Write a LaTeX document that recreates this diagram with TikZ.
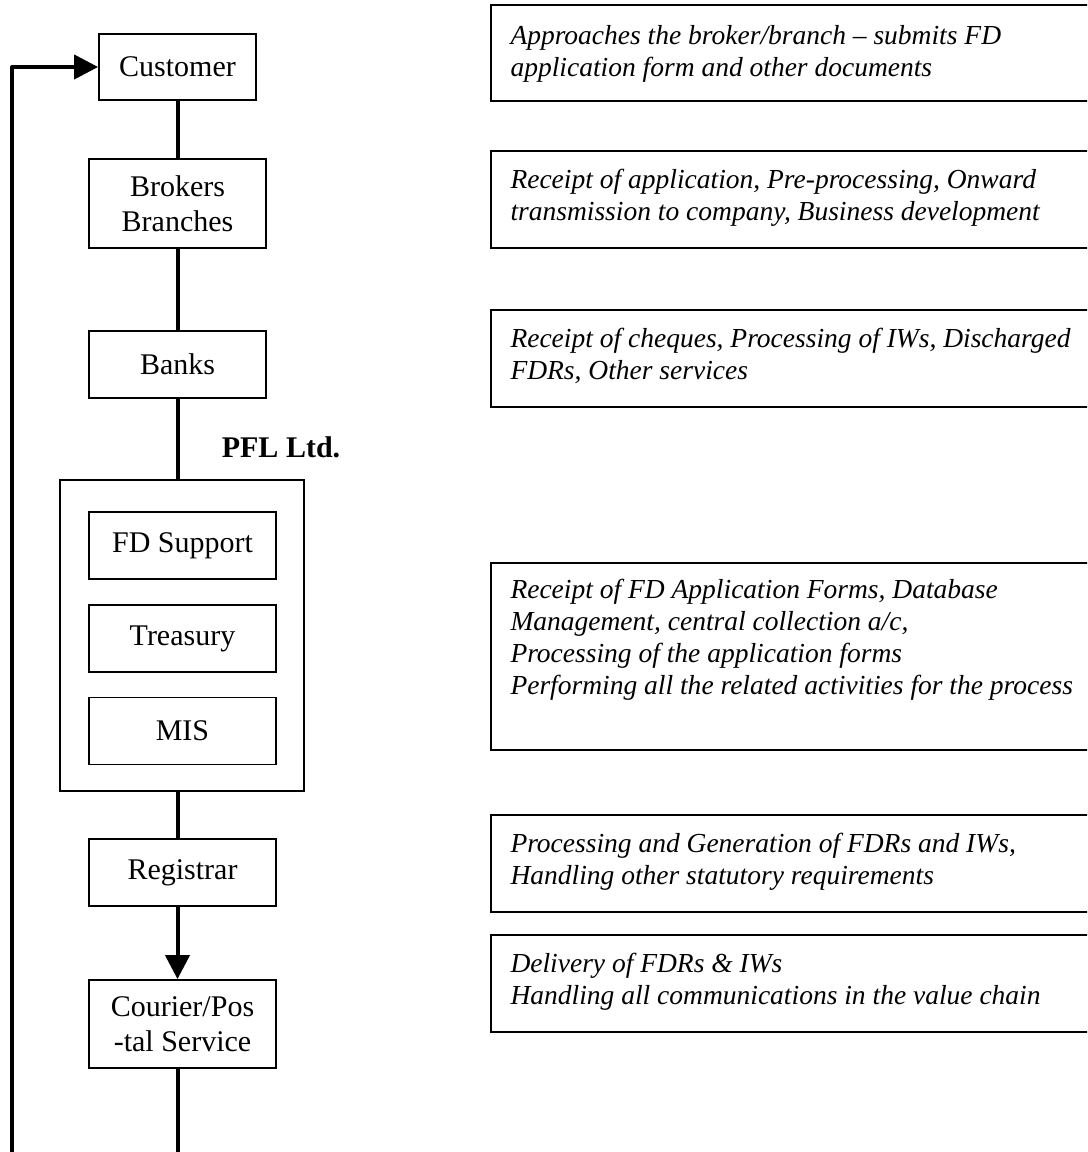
\documentclass[tikz,border=0pt]{standalone}
\usepackage{fontspec}
\setmainfont{Liberation Serif}
\usetikzlibrary{arrows.meta,calc}
\begin{document}
\begin{tikzpicture}[x=0.4pt,y=-0.4pt,
  box/.style={draw,line width=0.7pt,rectangle,inner sep=0pt,align=center,font=\fontsize{12}{13.8}\selectfont},
  outerbox/.style={draw,line width=0.7pt,rectangle,inner sep=0pt},
  conn/.style={line width=1.6pt,line join=round},
  tip/.style={-{Triangle[length=9.6pt,width=9.6pt]}},
  desc/.style={draw,line width=0.7pt,rectangle,inner sep=0pt,anchor=north west,minimum width=260pt},
  desctext/.style={anchor=north west,inner sep=0pt,align=left,font=\fontsize{11}{12.8}\selectfont\itshape},
  lbl/.style={inner sep=0pt,font=\fontsize{12}{13.8}\selectfont\bfseries}
]
\useasboundingbox (0,0) rectangle (1087,1152);
\clip (0,0) rectangle (1087,1152);

% left column
\node[box,minimum width=62.8pt,minimum height=26.4pt] (cust) at (177.5,67) {Customer};
\node[box,minimum width=70.8pt,minimum height=35.6pt] (brok) at (177.5,203.5) {Brokers\\Branches};
\node[box,minimum width=70.8pt,minimum height=26.8pt] (bank) at (177.5,364.5) {Banks};
\node[lbl] (pfl) at (281,447) {PFL Ltd.};
\node[outerbox,minimum width=97.6pt,minimum height=124.4pt] (pflbox) at (182,635.5) {};
\node[box,minimum width=74.8pt,minimum height=26.8pt] (fds) at (182.5,545.5) {FD Support};
\node[box,minimum width=74.8pt,minimum height=26.8pt] (trs) at (182.5,638.5) {Treasury};
\node[box,minimum width=74.8pt,minimum height=26.8pt] (mis) at (182.5,731) {MIS};
\node[box,minimum width=74.8pt,minimum height=26.8pt] (reg) at (182.5,872.5) {Registrar};
\node[box,minimum width=74.8pt,minimum height=35.2pt] (cour) at (182.5,1024) {Courier/Pos\\-tal Service};

\coordinate (lbot) at (12,1200);

% connectors
\draw[conn] (cust.south) -- (brok.north);
\draw[conn] (brok.south) -- (bank.north);
\draw[conn] (bank.south) -- (bank.south |- pflbox.north);
\draw[conn] (bank.south |- pflbox.south) -- (bank.south |- reg.north);
\draw[conn,tip] (bank.south |- reg.south) -- (bank.south |- cour.north);
\draw[conn,tip] (bank.south |- cour.south) -- (bank.south |- lbot) -- (lbot) -- (lbot |- cust.west) -- (cust.west);

% right descriptions
\node[desc,minimum height=38.4pt] (r1) at (490,4) {};
\node[desctext] (t1) at (510,25) {Approaches the broker/branch – submits FD\\application form and other documents};
\node[desc,minimum height=38.8pt] (r2) at (490,150) {};
\node[desctext] (t2) at (510,169) {Receipt of application, Pre-processing, Onward\\transmission to company, Business development};
\node[desc,minimum height=38.8pt] (r3) at (490,309) {};
\node[desctext] (t3) at (510,328) {Receipt of cheques, Processing of IWs, Discharged\\FDRs, Other services};
\node[desc,minimum height=74.8pt] (r4) at (490,562) {};
\node[desctext] (t4) at (510,579) {Receipt of FD Application Forms, Database\\Management, central collection a/c,\\Processing of the application forms\\Performing all the related activities for the process};
\node[desc,minimum height=38.8pt] (r5) at (490,814) {};
\node[desctext] (t5) at (510,833) {Processing and Generation of FDRs and IWs,\\Handling other statutory requirements};
\node[desc,minimum height=38.8pt] (r6) at (490,934) {};
\node[desctext] (t6) at (510,953) {Delivery of FDRs \& IWs\\Handling all communications in the value chain};
\end{tikzpicture}
\end{document}
